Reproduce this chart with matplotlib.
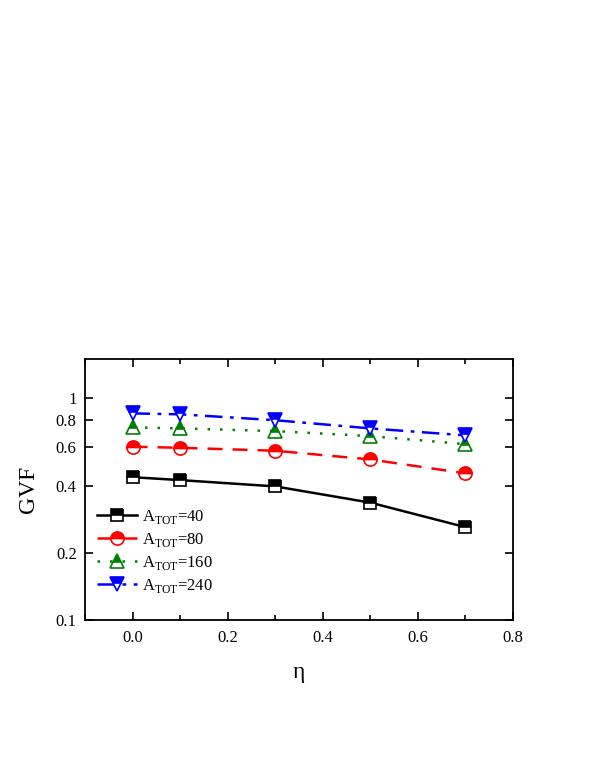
import matplotlib
matplotlib.use("Agg")
import matplotlib.pyplot as plt
from matplotlib.ticker import FixedLocator, FixedFormatter, MultipleLocator, NullLocator

eta = [0.0, 0.1, 0.3, 0.5, 0.7]
gvf_40 = [0.44, 0.427, 0.40, 0.338, 0.262]
gvf_80 = [0.604, 0.597, 0.579, 0.529, 0.458]
gvf_160 = [0.738, 0.73, 0.71, 0.674, 0.62]
gvf_240 = [0.853, 0.845, 0.795, 0.73, 0.679]
labels = ["A$_{\\mathrm{TOT}}$=40", "A$_{\\mathrm{TOT}}$=80",
          "A$_{\\mathrm{TOT}}$=160", "A$_{\\mathrm{TOT}}$=240"]
yticks = [0.1, 0.2, 0.4, 0.6, 0.8, 1]
ytick_labels = ["0.1", "0.2", "0.4", "0.6", "0.8", "1"]

plt.rcParams['font.family'] = ['Liberation Serif', 'DejaVu Serif']
plt.rcParams['mathtext.fontset'] = 'custom'
plt.rcParams['mathtext.rm'] = 'Liberation Serif'

fig = plt.figure(figsize=(5.95, 7.7), dpi=100)
ax = fig.add_axes([85/595, 1-620/770, 428/595, 261/770])

series = [
    (gvf_40, 'black', '-', 's', 8.5, labels[0]),
    (gvf_80, 'red', (0, (6, 4)), 'o', 9.5, labels[1]),
    (gvf_160, 'green', (0, (1, 4)), '^', 10.5, labels[2]),
    (gvf_240, 'blue', (0, (7, 3, 1.5, 3)), 'v', 10.5, labels[3]),
]
for y, c, ls, m, ms, lab in series:
    ax.plot(eta, y, color=c, linestyle=ls, linewidth=1.8, marker=m,
            markersize=ms, fillstyle='top', markerfacecolor=c,
            markerfacecoloralt='white', markeredgecolor=c, markeredgewidth=1.2,
            label=lab)

ax.set_yscale('log')
ax.set_xlim(-0.1, 0.8)
ax.set_ylim(0.1, 1.5)
ax.yaxis.set_major_locator(FixedLocator(yticks))
ax.yaxis.set_major_formatter(FixedFormatter(ytick_labels))
ax.yaxis.set_minor_locator(NullLocator())
ax.xaxis.set_major_locator(MultipleLocator(0.2))
ax.xaxis.set_minor_locator(MultipleLocator(0.1))
ax.tick_params(which='both', direction='in', top=True, right=True, labelsize=12)
ax.tick_params(axis='x', which='major', pad=7)
ax.tick_params(axis='y', which='major', pad=6)
ax.tick_params(which='major', length=6, width=1.2)
ax.tick_params(which='minor', length=3.5, width=1.2)
for s in ax.spines.values():
    s.set_linewidth(1.3)

ax.set_xlabel('η', fontsize=17, labelpad=12)
ax.set_ylabel('GVF', fontsize=17, labelpad=12)

ax.legend(loc='lower left', bbox_to_anchor=(0.0, 0.05), frameon=False,
          fontsize=12, handlelength=2.4, handletextpad=0.3, labelspacing=0.3,
          borderaxespad=0.3)

fig.savefig('out.png', dpi=100)
